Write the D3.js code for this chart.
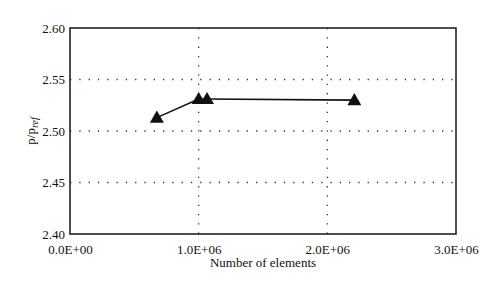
<!DOCTYPE html>
<html>
<head>
<meta charset="utf-8">
<script src="https://cdn.jsdelivr.net/npm/d3@7"></script>
<style>
  body { margin: 0; background: #fff; }
  .tick text { font-family: "Liberation Serif", serif; font-size: 13px; fill: #111; }
  .label { font-family: "Liberation Serif", serif; font-size: 13px; fill: #111; }
</style>
</head>
<body>
<div class="chart-container"></div>
<script>
// data
var elements = [675000, 1000000, 1065000, 2210000];
var pRatio = [2.513, 2.531, 2.531, 2.530];
var xTicks = [0, 1e6, 2e6, 3e6];
var yTicks = [2.40, 2.45, 2.50, 2.55, 2.60];

var margin = {top: 28, right: 44, bottom: 56, left: 70},
	width = 500 - margin.left - margin.right,
	height = 290 - margin.top - margin.bottom;

var svg = d3.select('.chart-container').append('svg')
	.attr('width', 500)
	.attr('height', 290);

var g = svg.append('g')
	.attr('transform', 'translate(' + margin.left + ',' + margin.top + ')');

var x = d3.scaleLinear().domain([0, 3e6]).range([0, width]),
	y = d3.scaleLinear().domain([2.40, 2.60]).range([height, 0]);

var fmtX = function(d) { return d.toExponential(1).toUpperCase().replace('E+', 'E+0'); };

// dotted grid
g.selectAll('.hgrid')
	.data(yTicks.slice(1, -1))
	.enter().append('line')
	.attr('class', 'hgrid')
	.attr('x1', 0).attr('x2', width)
	.attr('y1', function(d) { return y(d); })
	.attr('y2', function(d) { return y(d); })
	.style('stroke', '#333')
	.style('stroke-width', 1.3)
	.style('stroke-dasharray', '1.3,8');

g.selectAll('.vgrid')
	.data(xTicks.slice(1, -1))
	.enter().append('line')
	.attr('class', 'vgrid')
	.attr('y1', 0).attr('y2', height)
	.attr('x1', function(d) { return x(d); })
	.attr('x2', function(d) { return x(d); })
	.style('stroke', '#333')
	.style('stroke-width', 1.3)
	.style('stroke-dasharray', '1.3,8');

// axes
var xAxis = g.append('g')
	.attr('transform', 'translate(0,' + height + ')')
	.call(d3.axisBottom(x).tickValues(xTicks).tickFormat(fmtX).tickSize(0).tickPadding(11));
xAxis.select('.domain').remove();

var yAxis = g.append('g')
	.call(d3.axisLeft(y).tickValues(yTicks).tickFormat(d3.format('.2f')).tickSize(0).tickPadding(5));
yAxis.select('.domain').remove();

// frame
g.append('rect')
	.attr('width', width)
	.attr('height', height)
	.attr('fill', 'none')
	.style('stroke', '#222')
	.style('stroke-width', 1.6);

// series
var pts = elements.map(function(d, i) { return {x: d, y: pRatio[i]}; });

g.append('path')
	.datum(pts)
	.attr('fill', 'none')
	.style('stroke', '#111')
	.style('stroke-width', 1.6)
	.attr('d', d3.line().x(function(d) { return x(d.x); }).y(function(d) { return y(d.y); }));

g.selectAll('.pt')
	.data(pts)
	.enter().append('path')
	.attr('class', 'pt')
	.attr('transform', function(d) { return 'translate(' + x(d.x) + ',' + (y(d.y) + 1) + ')'; })
	.attr('d', d3.symbol().type(d3.symbolTriangle).size(85))
	.style('fill', '#111');

// axis labels
svg.append('text')
	.attr('class', 'label')
	.attr('x', margin.left + width / 2)
	.attr('y', 267)
	.style('text-anchor', 'middle')
	.text('Number of elements');

var yl = svg.append('text')
	.attr('class', 'label')
	.attr('transform', 'translate(35,' + (margin.top + height / 2) + ') rotate(-90)')
	.style('text-anchor', 'middle');
yl.append('tspan').text('p/p');
yl.append('tspan').attr('dy', 3).style('font-size', '10px').style('font-style', 'italic').text('ref');
</script>
</body>
</html>
